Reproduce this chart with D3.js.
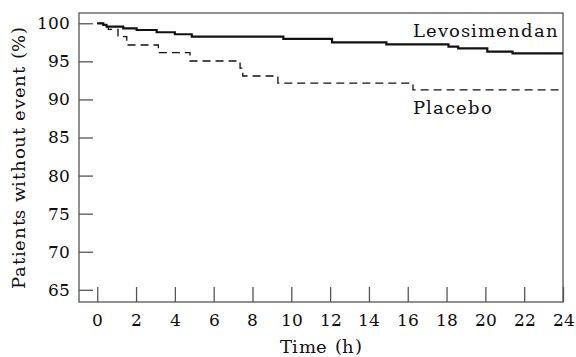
<!DOCTYPE html>
<html>
<head>
<meta charset="utf-8">
<script src="https://cdn.jsdelivr.net/npm/d3@7"></script>
<style>
  @font-face { font-family: "ChartSerif"; src: local("DejaVu Serif"), local("DejaVuSerif"); }
  svg, svg text { font-family: "ChartSerif", "DejaVu Serif", "Liberation Serif", serif; }
</style>
</head>
<body style="margin:0">
<svg id="fig" width="576" height="357" font-family="DejaVu Serif"></svg>
<script>
// data
var xTicks = d3.range(0, 25, 2);
var yTicks = [65, 70, 75, 80, 85, 90, 95, 100];

var levoTime  = [0, 0.31, 0.48, 1.34, 2.03, 3.06, 4.0, 4.87, 9.59, 12.1, 14.9, 18.1, 18.6, 20.1, 21.4, 24];
var levoValue = [100, 99.78, 99.55, 99.34, 99.12, 98.82, 98.56, 98.24, 97.94, 97.5, 97.24, 96.93, 96.7, 96.27, 96.06, 96.06];

var placTime  = [0, 0.31, 0.57, 1.07, 1.52, 3.15, 4.78, 7.36, 7.5, 9.31, 16.27, 24];
var placValue = [100, 99.55, 99.2, 98.25, 97.15, 96.14, 95.05, 94.1, 93.08, 92.13, 91.25, 91.25];

var svg = d3.select('#fig');
var margin = { left: 79, top: 13, right: 13, bottom: 55 };
var width = 576 - margin.left - margin.right;
var height = 357 - margin.top - margin.bottom;
var frameColor = '#555';

var x = d3.scaleLinear().domain([-0.94, 24]).range([0, width]);
var y = d3.scaleLinear().domain([63.4, 101.35]).range([height, 0]);

var g = svg.append('g')
    .attr('transform', 'translate(' + margin.left + ',' + margin.top + ')');

// x axis: ticks drawn as lines pointing up, labels as plain text
var xAxis = g.append('g')
    .attr('transform', 'translate(0,' + height + ')')
    .call(d3.axisBottom(x).tickValues(xTicks).tickSize(-15).tickPadding(12).tickSizeOuter(0));
xAxis.attr('font-family', 'DejaVu Serif').attr('font-size', 17);
xAxis.select('.domain').remove();
xAxis.selectAll('line').attr('stroke', frameColor).attr('stroke-width', 1.3);
xAxis.selectAll('text').attr('fill', '#111').attr('font-family', 'DejaVu Serif');

// y axis, ticks pointing right
var yAxis = g.append('g')
    .call(d3.axisLeft(y).tickValues(yTicks).tickSize(-14).tickPadding(9).tickSizeOuter(0));
yAxis.attr('font-family', 'DejaVu Serif').attr('font-size', 17);
yAxis.select('.domain').remove();
yAxis.selectAll('line').attr('stroke', frameColor).attr('stroke-width', 1.3);
yAxis.selectAll('text').attr('fill', '#111').attr('font-family', 'DejaVu Serif');

// frame
g.append('rect')
    .attr('width', width).attr('height', height)
    .attr('fill', 'none')
    .attr('stroke', frameColor)
    .attr('stroke-width', 1.3);

var line = d3.line()
    .x(function (d) { return x(d[0]); })
    .y(function (d) { return y(d[1]); })
    .curve(d3.curveStepAfter);

var levo = levoTime.map(function (t, i) { return [t, levoValue[i]]; });
var plac = placTime.map(function (t, i) { return [t, placValue[i]]; });

g.append('path')
    .datum(plac)
    .attr('d', line)
    .attr('fill', 'none')
    .attr('stroke', '#111')
    .attr('stroke-width', 1.3)
    .attr('stroke-dasharray', '8,5');

g.append('path')
    .datum(levo)
    .attr('d', line)
    .attr('fill', 'none')
    .attr('stroke', '#111')
    .attr('stroke-width', 2.2);

// series labels and axis titles
var labels = [
    { text: 'Levosimendan', x: 413, y: 37, size: 18, ls: 1, anchor: 'start', rot: false },
    { text: 'Placebo', x: 413, y: 114, size: 18, ls: 1, anchor: 'start', rot: false },
    { text: 'Time (h)', x: margin.left + width / 2, y: 353, size: 18, ls: 0.6, anchor: 'middle', rot: false },
    { text: 'Patients without event (%)', x: 25, y: margin.top + height / 2, size: 18, ls: 0.7, anchor: 'middle', rot: true }
];

svg.selectAll('.lbl')
    .data(labels)
    .enter()
    .append('text')
    .attr('class', 'lbl')
    .attr('transform', function (d) {
        return 'translate(' + d.x + ',' + d.y + ')' + (d.rot ? ' rotate(-90)' : '');
    })
    .attr('text-anchor', function (d) { return d.anchor; })
    .attr('font-family', 'DejaVu Serif')
    .attr('font-size', function (d) { return d.size; })
    .attr('letter-spacing', function (d) { return d.ls; })
    .attr('fill', '#111')
    .text(function (d) { return d.text; });
</script>
</body>
</html>
